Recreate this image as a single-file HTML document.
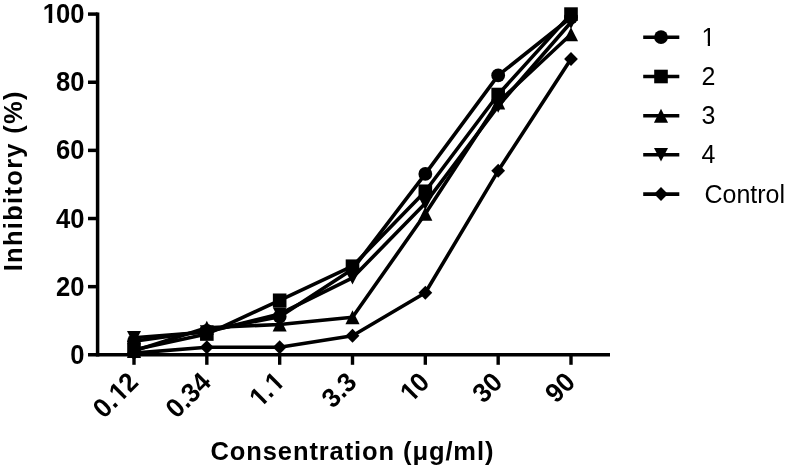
<!DOCTYPE html>
<html><head><meta charset="utf-8"><style>
html,body{margin:0;padding:0;background:#fff;}
body{width:786px;height:469px;overflow:hidden;}
svg{display:block;will-change:transform;}
text{font-family:"Liberation Sans",sans-serif;fill:#000;}
.tl{font-size:26px;font-weight:bold;}
.lg{font-size:25px;}
.at{font-size:25.5px;font-weight:bold;}
.yt{letter-spacing:1.3px;}
.xt{letter-spacing:0.9px;}
</style></head><body>
<svg width="786" height="469" viewBox="0 0 786 469" fill="#000">
<path d="M97.6 12.4 V356.6" stroke="#000" stroke-width="3.5" fill="none"/>
<path d="M88 354.80 H610" stroke="#000" stroke-width="3.6" fill="none"/>
<path d="M88 286.66 H97.6" stroke="#000" stroke-width="3.5" fill="none"/>
<path d="M88 218.52 H97.6" stroke="#000" stroke-width="3.5" fill="none"/>
<path d="M88 150.38 H97.6" stroke="#000" stroke-width="3.5" fill="none"/>
<path d="M88 82.24 H97.6" stroke="#000" stroke-width="3.5" fill="none"/>
<path d="M88 14.10 H97.6" stroke="#000" stroke-width="3.5" fill="none"/>
<path d="M134.00 354.80 V364.8" stroke="#000" stroke-width="3.4" fill="none"/>
<path d="M206.83 354.80 V364.8" stroke="#000" stroke-width="3.4" fill="none"/>
<path d="M279.67 354.80 V364.8" stroke="#000" stroke-width="3.4" fill="none"/>
<path d="M352.50 354.80 V364.8" stroke="#000" stroke-width="3.4" fill="none"/>
<path d="M425.33 354.80 V364.8" stroke="#000" stroke-width="3.4" fill="none"/>
<path d="M498.17 354.80 V364.8" stroke="#000" stroke-width="3.4" fill="none"/>
<path d="M571.00 354.80 V364.8" stroke="#000" stroke-width="3.4" fill="none"/>
<g transform="translate(84.40,363.80) scale(0.985,1.045)"><text x="-14.46" y="0" class="tl">0</text></g>
<g transform="translate(84.40,295.66) scale(0.985,1.045)"><text x="-28.92" y="0" class="tl">20</text></g>
<g transform="translate(84.40,227.52) scale(0.985,1.045)"><text x="-28.92" y="0" class="tl">40</text></g>
<g transform="translate(84.40,159.38) scale(0.985,1.045)"><text x="-28.92" y="0" class="tl">60</text></g>
<g transform="translate(84.40,91.24) scale(0.985,1.045)"><text x="-28.92" y="0" class="tl">80</text></g>
<g transform="translate(84.40,23.10) scale(0.985,1.045)"><text x="-43.38" y="0" class="tl"><tspan dx="1.00">1</tspan><tspan dx="-1.00">0</tspan>0</text><rect x="-42.24" y="-3.25" width="5.93" height="5.25" fill="#fff"/><rect x="-32.74" y="-3.25" width="5.60" height="5.25" fill="#fff"/></g>
<g transform="translate(126.50,370.5) rotate(-45)"><g transform="translate(0.00,18.72) scale(1.0,1.04)"><text x="-50.60" y="0" class="tl">0.<tspan dx="1.00">1</tspan><tspan dx="-1.00">2</tspan></text><rect x="-27.78" y="-3.25" width="5.93" height="5.25" fill="#fff"/><rect x="-18.28" y="-3.25" width="5.60" height="5.25" fill="#fff"/></g></g>
<g transform="translate(199.33,370.5) rotate(-45)"><g transform="translate(0.00,18.72) scale(1.0,1.04)"><text x="-50.60" y="0" class="tl">0.34</text></g></g>
<g transform="translate(272.17,370.5) rotate(-45)"><g transform="translate(0.00,18.72) scale(1.0,1.04)"><text x="-36.14" y="0" class="tl"><tspan dx="1.00">1</tspan><tspan dx="-1.00">.</tspan><tspan dx="1.00">1</tspan></text><rect x="-35.01" y="-3.25" width="5.93" height="5.25" fill="#fff"/><rect x="-25.51" y="-3.25" width="5.60" height="5.25" fill="#fff"/><rect x="-13.32" y="-3.25" width="5.93" height="5.25" fill="#fff"/><rect x="-3.82" y="-3.25" width="5.60" height="5.25" fill="#fff"/></g></g>
<g transform="translate(345.00,370.5) rotate(-45)"><g transform="translate(0.00,18.72) scale(1.0,1.04)"><text x="-36.14" y="0" class="tl">3.3</text></g></g>
<g transform="translate(417.83,370.5) rotate(-45)"><g transform="translate(0.00,18.72) scale(1.0,1.04)"><text x="-28.92" y="0" class="tl"><tspan dx="1.00">1</tspan><tspan dx="-1.00">0</tspan></text><rect x="-27.78" y="-3.25" width="5.93" height="5.25" fill="#fff"/><rect x="-18.28" y="-3.25" width="5.60" height="5.25" fill="#fff"/></g></g>
<g transform="translate(490.67,370.5) rotate(-45)"><g transform="translate(0.00,18.72) scale(1.0,1.04)"><text x="-28.92" y="0" class="tl">30</text></g></g>
<g transform="translate(563.50,370.5) rotate(-45)"><g transform="translate(0.00,18.72) scale(1.0,1.04)"><text x="-28.92" y="0" class="tl">90</text></g></g>
<polyline points="134.00,341.17 206.83,330.95 279.67,316.64 352.50,269.28 425.33,173.89 498.17,75.43 571.00,17.51" fill="none" stroke="#000" stroke-width="3.6" stroke-linejoin="round"/>
<polyline points="134.00,349.69 206.83,334.02 279.67,300.29 352.50,266.22 425.33,191.26 498.17,94.51 571.00,14.10" fill="none" stroke="#000" stroke-width="3.6" stroke-linejoin="round"/>
<polyline points="134.00,350.88 206.83,327.71 279.67,324.48 352.50,317.32 425.33,213.75 498.17,102.34 571.00,34.20" fill="none" stroke="#000" stroke-width="3.6" stroke-linejoin="round"/>
<polyline points="134.00,337.76 206.83,331.97 279.67,313.92 352.50,277.80 425.33,203.19 498.17,106.09 571.00,22.28" fill="none" stroke="#000" stroke-width="3.6" stroke-linejoin="round"/>
<polyline points="134.00,353.10 206.83,347.30 279.67,347.30 352.50,335.72 425.33,292.79 498.17,170.82 571.00,59.07" fill="none" stroke="#000" stroke-width="3.6" stroke-linejoin="round"/>
<circle cx="134.00" cy="341.17" r="6.9"/>
<circle cx="206.83" cy="330.95" r="6.9"/>
<circle cx="279.67" cy="316.64" r="6.9"/>
<circle cx="352.50" cy="269.28" r="6.9"/>
<circle cx="425.33" cy="173.89" r="6.9"/>
<circle cx="498.17" cy="75.43" r="6.9"/>
<circle cx="571.00" cy="17.51" r="6.9"/>
<rect x="127.20" y="342.89" width="13.60" height="13.60"/>
<rect x="200.03" y="327.22" width="13.60" height="13.60"/>
<rect x="272.87" y="293.49" width="13.60" height="13.60"/>
<rect x="345.70" y="259.42" width="13.60" height="13.60"/>
<rect x="418.53" y="184.46" width="13.60" height="13.60"/>
<rect x="491.37" y="87.71" width="13.60" height="13.60"/>
<rect x="564.20" y="7.30" width="13.60" height="13.60"/>
<polygon points="134.00,343.83 141.05,357.93 126.95,357.93"/>
<polygon points="206.83,320.66 213.88,334.76 199.78,334.76"/>
<polygon points="279.67,317.43 286.72,331.53 272.62,331.53"/>
<polygon points="352.50,310.27 359.55,324.37 345.45,324.37"/>
<polygon points="425.33,206.70 432.38,220.80 418.28,220.80"/>
<polygon points="498.17,95.29 505.22,109.39 491.12,109.39"/>
<polygon points="571.00,27.15 578.05,41.25 563.95,41.25"/>
<polygon points="127.00,331.06 141.00,331.06 134.00,344.46"/>
<polygon points="199.83,325.27 213.83,325.27 206.83,338.67"/>
<polygon points="272.67,307.22 286.67,307.22 279.67,320.62"/>
<polygon points="345.50,271.10 359.50,271.10 352.50,284.50"/>
<polygon points="418.33,196.49 432.33,196.49 425.33,209.89"/>
<polygon points="491.17,99.39 505.17,99.39 498.17,112.79"/>
<polygon points="564.00,15.58 578.00,15.58 571.00,28.98"/>
<polygon points="134.00,346.10 140.90,353.10 134.00,360.10 127.10,353.10"/>
<polygon points="206.83,340.30 213.73,347.30 206.83,354.30 199.93,347.30"/>
<polygon points="279.67,340.30 286.57,347.30 279.67,354.30 272.77,347.30"/>
<polygon points="352.50,328.72 359.40,335.72 352.50,342.72 345.60,335.72"/>
<polygon points="425.33,285.79 432.23,292.79 425.33,299.79 418.43,292.79"/>
<polygon points="498.17,163.82 505.07,170.82 498.17,177.82 491.27,170.82"/>
<polygon points="571.00,52.07 577.90,59.07 571.00,66.07 564.10,59.07"/>
<path d="M643.2 37.20 H679.3" stroke="#000" stroke-width="3.6"/>
<circle cx="661.00" cy="37.20" r="6.9"/>
<g transform="translate(701.50,45.80) scale(1.0,1.04)"><text x="0.00" y="0" class="lg">1</text><rect x="0.40" y="-2.47" width="5.88" height="4.47" fill="#fff"/><rect x="8.50" y="-2.47" width="5.69" height="4.47" fill="#fff"/></g>
<path d="M643.2 76.50 H679.3" stroke="#000" stroke-width="3.6"/>
<rect x="654.20" y="69.70" width="13.60" height="13.60"/>
<g transform="translate(701.50,85.10) scale(1.0,1.04)"><text x="0.00" y="0" class="lg">2</text></g>
<path d="M643.2 115.80 H679.3" stroke="#000" stroke-width="3.6"/>
<polygon points="661.00,108.75 668.05,122.85 653.95,122.85"/>
<g transform="translate(701.50,124.40) scale(1.0,1.04)"><text x="0.00" y="0" class="lg">3</text></g>
<path d="M643.2 154.70 H679.3" stroke="#000" stroke-width="3.6"/>
<polygon points="654.00,148.00 668.00,148.00 661.00,161.40"/>
<g transform="translate(701.50,163.30) scale(1.0,1.04)"><text x="0.00" y="0" class="lg">4</text></g>
<path d="M643.2 194.10 H679.3" stroke="#000" stroke-width="3.6"/>
<polygon points="661.00,187.10 667.90,194.10 661.00,201.10 654.10,194.10"/>
<g transform="translate(704.50,202.70) scale(1.0,1.04)"><text x="0.00" y="0" class="lg">Control</text></g>
<text transform="translate(22,271.3) rotate(-90)" class="at yt">Inhibitory (%)</text>
<text x="210.5" y="459.8" class="at xt">Consentration (μg/ml)</text>
</svg>
</body></html>
